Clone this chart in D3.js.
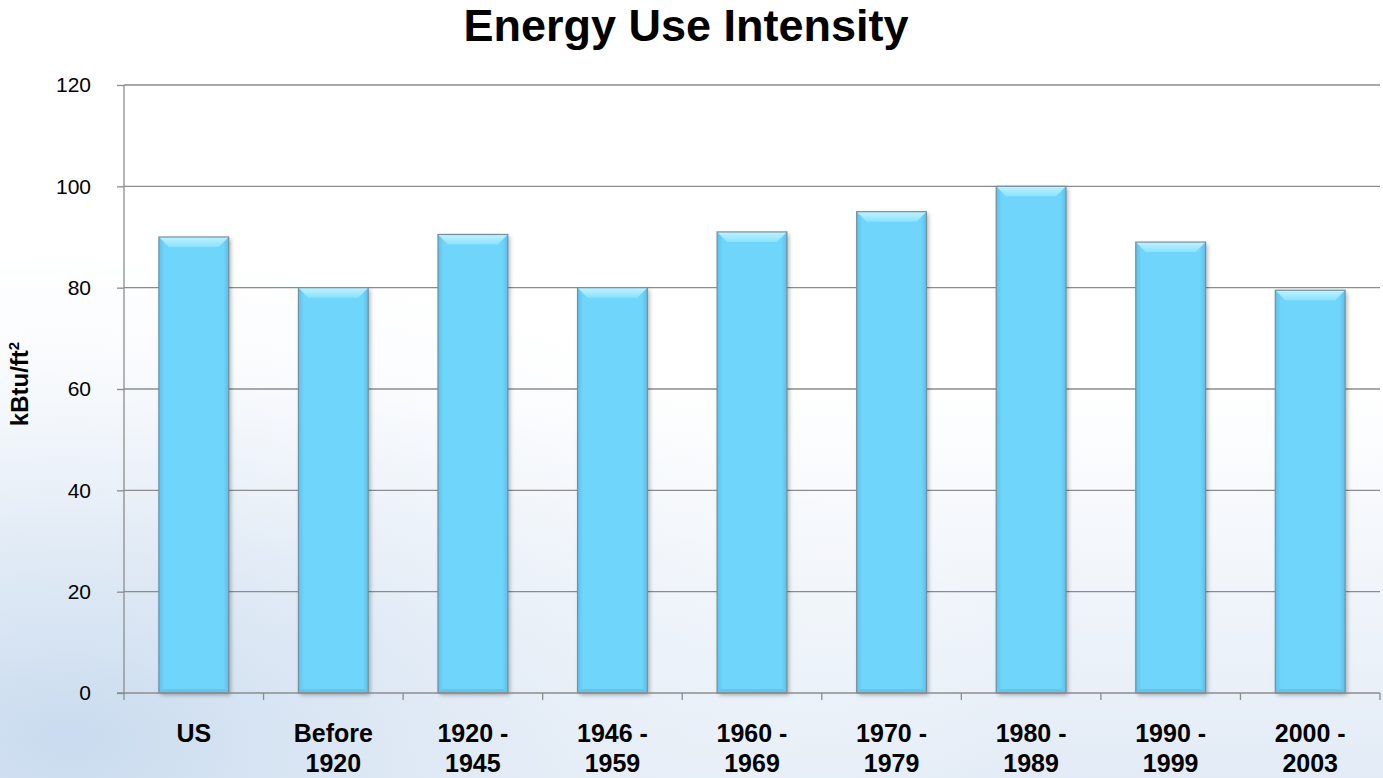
<!DOCTYPE html>
<html>
<head>
  <meta charset="UTF-8">
  <style>
    body { margin: 0; background: #fff; }
    svg { display: block; font-family: "Liberation Sans", Arial, sans-serif; }
  </style>
</head>
<body>
<svg></svg>
<script src="https://d3js.org/d3.v7.min.js"></script>
<script>
const categories = ["US", "Before|1920", "1920 -|1945", "1946 -|1959", "1960 -|1969", "1970 -|1979", "1980 -|1989", "1990 -|1999", "2000 -|2003"];
const values = [90, 80, 90.5, 80, 91, 95, 100, 89, 79.5];
const yTicks = [0, 20, 40, 60, 80, 100, 120];

let width = 1383, height = 778;
let svg = d3.select("svg").attr("width", width).attr("height", height);
let margin = {left: 124, right: 3, top: 85, bottom: 85};

let defs = svg.append("defs");
// soft sky background
let bgLin = defs.append("linearGradient").attr("id", "skyLin").attr("x1", 0).attr("x2", 0).attr("y1", 0).attr("y2", 1);
bgLin.append("stop").attr("offset", "0%").attr("stop-color", "#ffffff");
bgLin.append("stop").attr("offset", "50%").attr("stop-color", "#ffffff");
bgLin.append("stop").attr("offset", "100%").attr("stop-color", "#e2ebf6");
let bg = defs.append("radialGradient").attr("id", "sky")
  .attr("cx", "0.05").attr("cy", "0.95").attr("r", "0.7");
bg.append("stop").attr("offset", "0%").attr("stop-color", "#c9dbef").attr("stop-opacity", 1);
bg.append("stop").attr("offset", "40%").attr("stop-color", "#e0eaf5").attr("stop-opacity", 0.8);
bg.append("stop").attr("offset", "100%").attr("stop-color", "#ffffff").attr("stop-opacity", 0);

let barGrad = defs.append("linearGradient").attr("id", "barFill").attr("x1", 0).attr("x2", 1);
barGrad.append("stop").attr("offset", "0%").attr("stop-color", "#5cc2ec");
barGrad.append("stop").attr("offset", "8%").attr("stop-color", "#6fd5fb");
barGrad.append("stop").attr("offset", "92%").attr("stop-color", "#6fd5fb");
barGrad.append("stop").attr("offset", "100%").attr("stop-color", "#5bc0e9");

let topGrad = defs.append("linearGradient").attr("id", "topFill").attr("x1", 0).attr("x2", 0).attr("y1", 0).attr("y2", 1);
topGrad.append("stop").attr("offset", "0%").attr("stop-color", "#c0f2ff");
topGrad.append("stop").attr("offset", "100%").attr("stop-color", "#8ae2fd");

let shadow = defs.append("filter").attr("id", "shadow").attr("x", "-20%").attr("y", "-5%").attr("width", "150%").attr("height", "115%");
shadow.append("feDropShadow").attr("dx", 2).attr("dy", 2).attr("stdDeviation", 2).attr("flood-color", "#000").attr("flood-opacity", 0.3);

svg.append("rect").attr("width", width).attr("height", height).attr("fill", "url(#skyLin)");
svg.append("rect").attr("width", width).attr("height", height).attr("fill", "url(#sky)");

let x = d3.scaleBand().domain(categories).range([margin.left, width - margin.right]).paddingInner(0.5).paddingOuter(0.25);
let xBand = d3.scaleBand().domain(categories).range([margin.left, width - margin.right]);
let y = d3.scaleLinear().domain([0, 120]).range([height - margin.bottom, margin.top]);

// gridlines
svg.append("g").selectAll("line").data(yTicks.filter(d => d > 0)).enter().append("line")
  .attr("x1", margin.left).attr("x2", width - margin.right)
  .attr("y1", d => y(d)).attr("y2", d => y(d))
  .attr("stroke", "#8c8c8c").attr("stroke-width", 1.3);

// bars
const bev = 10;
let bars = svg.append("g").selectAll("g").data(categories).enter().append("g");
bars.append("rect")
  .attr("x", d => x(d)).attr("width", x.bandwidth())
  .attr("y", (d, i) => y(values[i])).attr("height", (d, i) => y(0) - y(values[i]))
  .attr("fill", "url(#barFill)")
  .attr("filter", "url(#shadow)");
// bevel top
bars.append("path")
  .attr("d", (d, i) => {
    let x0 = x(d), x1 = x(d) + x.bandwidth(), t = y(values[i]);
    return `M${x0},${t} L${x1},${t} L${x1 - bev},${t + bev} L${x0 + bev},${t + bev} Z`;
  })
  .attr("fill", "url(#topFill)");
// bevel bottom
bars.append("path")
  .attr("d", (d, i) => {
    let x0 = x(d), x1 = x(d) + x.bandwidth(), b = y(0);
    return `M${x0},${b} L${x1},${b} L${x1 - 4},${b - 4} L${x0 + 4},${b - 4} Z`;
  })
  .attr("fill", "#62c6ec");
bars.append("rect")
  .attr("x", d => x(d)).attr("width", x.bandwidth())
  .attr("y", (d, i) => y(values[i])).attr("height", (d, i) => y(0) - y(values[i]))
  .attr("fill", "none").attr("stroke", "#75909c").attr("stroke-width", 1.2);

// y axis
let yAxis = svg.append("g").attr("transform", `translate(${margin.left},0)`)
  .call(d3.axisLeft(y).tickValues(yTicks).tickSize(7).tickPadding(26));
yAxis.selectAll("line").attr("stroke", "#8c8c8c").attr("stroke-width", 1.3);
yAxis.select(".domain").attr("stroke", "#8c8c8c").attr("stroke-width", 1.3).attr("d", `M0,${y(0)}V${y(120)}`);
yAxis.selectAll("text").attr("font-size", 21).attr("fill", "#000").attr("font-family", "Liberation Sans, Arial, sans-serif");

// x axis
let xAxis = svg.append("g").attr("transform", `translate(0,${y(0)})`);
xAxis.append("line").attr("x1", margin.left - 7).attr("x2", width - margin.right)
  .attr("stroke", "#8c8c8c").attr("stroke-width", 1.3);
xAxis.selectAll(".tk").data(categories.concat(["end"])).enter().append("line")
  .attr("x1", d => d === "end" ? width - margin.right : xBand(d))
  .attr("x2", d => d === "end" ? width - margin.right : xBand(d))
  .attr("y1", 0).attr("y2", 7)
  .attr("stroke", "#8c8c8c").attr("stroke-width", 1.3);
let xl = xAxis.selectAll(".lbl").data(categories).enter().append("text")
  .attr("text-anchor", "middle").attr("font-size", 25).attr("font-weight", "bold");
xl.each(function(d) {
  let parts = d.split("|");
  let t = d3.select(this);
  parts.forEach((p, k) => {
    t.append("tspan").attr("x", xBand(d) + xBand.bandwidth() / 2).attr("y", 49 + k * 30).text(p);
  });
});

// title
svg.append("text").attr("x", 686).attr("y", 41).attr("text-anchor", "middle")
  .attr("font-size", 45).attr("font-weight", "bold").text("Energy Use Intensity");

// y label
let yl = svg.append("text").attr("transform", `translate(28,${y(60) - 5}) rotate(-90)`)
  .attr("text-anchor", "middle").attr("font-size", 24).attr("font-weight", "bold");
yl.append("tspan").text("kBtu/ft");
yl.append("tspan").attr("font-size", 15).attr("dy", -9).text("2");
</script>
</body>
</html>
